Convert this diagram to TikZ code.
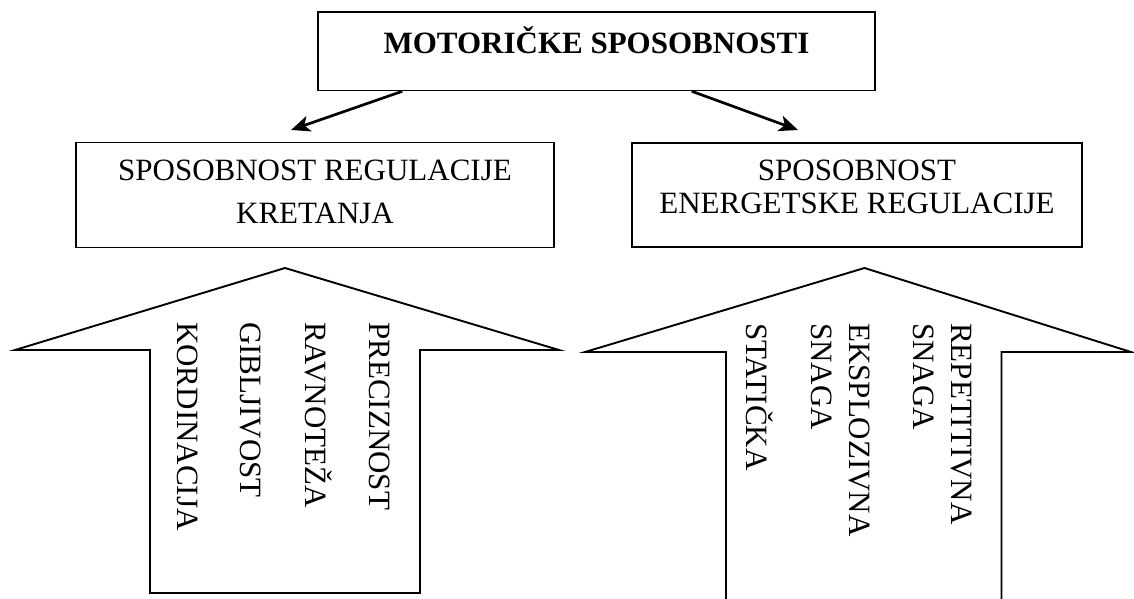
\documentclass[tikz,border=0pt]{standalone}
\usepackage{fontspec}
\setmainfont{Liberation Serif}
\usepackage{tikz}
\usetikzlibrary{arrows.meta}
\newcommand{\labelSize}{\fontsize{31}{38}\selectfont}
\newcommand{\rowsOf}[2]{\begin{tabular}[t]{@{}#1@{}}#2\end{tabular}}
\tikzset{
		boxStyle/.style = {draw, line width = 1.6pt, inner sep = 0pt, font = \labelSize},
		linkStyle/.style = {line width = 2.7pt, -{Stealth[length=19pt,width=16pt,inset=5pt]}},
		bigArrow/.style = {line width = 1.9pt},
		rotText/.style = {rotate = -90, anchor = base west, inner sep = 0pt, font = \labelSize}
}
\begin{document}
\begin{tikzpicture}[x=1pt, y=-1pt]
  \useasboundingbox (0,0) rectangle (1134,598);

  % Draw the three boxes
  \node [boxStyle, minimum width = 557pt, minimum height = 78.8pt, text height = 21pt, text depth = 16.6pt]
    (motor) at (596.5,51.1) {\bfseries MOTORIČKE SPOSOBNOSTI};
  \node [boxStyle, minimum width = 478pt, minimum height = 105pt, text height = 20pt, text depth = 49.6pt]
    (move) at (315,194.8) {\rowsOf{c}{SPOSOBNOST REGULACIJE\\[5pt]KRETANJA}};
  \node [boxStyle, minimum width = 450pt, minimum height = 104pt, text height = 20pt, text depth = 50pt]
    (energy) at (857,195) {\rowsOf{c}{SPOSOBNOST\\[-4.7pt]ENERGETSKE REGULACIJE}};

  % Draw arrows from the top box
  \coordinate (moveTip) at (291,130);
  \coordinate (energyTip) at (798,130);
  \draw [linkStyle] ([xshift=85pt]motor.south west) -- (moveTip);
  \draw [linkStyle] ([xshift=-184pt]motor.south east) -- (energyTip);

  % Draw left big arrow
  \draw [bigArrow] (150,593) -- (150,350) -- (15,350) -- (285,268) -- (559,350)
    -- (420,350) -- (420,593) -- cycle;
  \foreach \x/\word [count=\i] in {177.7/KORDINACIJA, 240.7/GIBLJIVOST, 305.5/RAVNOTEŽA, 369.7/PRECIZNOST}
    \node [rotText] (move\i) at (\x,322) {\word};

  % Draw right big arrow
  \draw [bigArrow] (726,602) -- (726,352) -- (585,352) -- (864.5,268) -- (1131,352)
    -- (1001.5,352) -- (1001.5,602);
  \node [rotText] (energy1) at (746.5,323) {STATIČKA};
  \node [rotText] (energy2) at (849,323) {\rowsOf{l}{EKSPLOZIVNA\\SNAGA}};
  \node [rotText] (energy3) at (951.5,323) {\rowsOf{l}{REPETITIVNA\\SNAGA}};

\end{tikzpicture}
\end{document}
